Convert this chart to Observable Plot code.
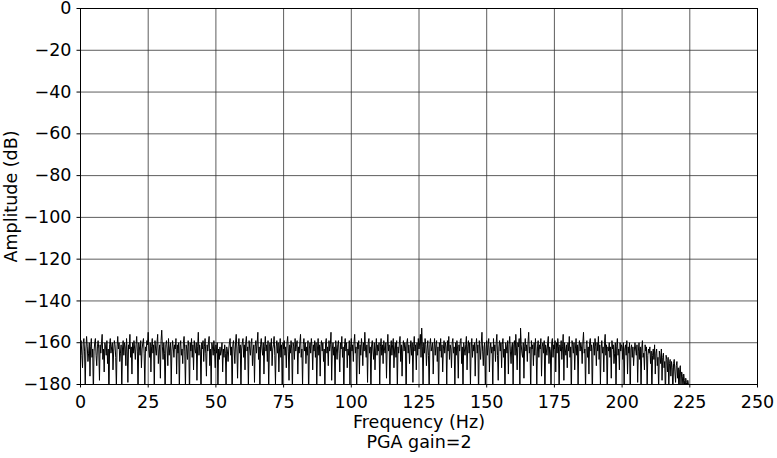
<!DOCTYPE html>
<html>
<head>
<meta charset="utf-8">
<script src="https://cdn.jsdelivr.net/npm/d3@7"></script>
<script src="https://cdn.jsdelivr.net/npm/@observablehq/plot@0.6"></script>
<style>
  body { margin: 0; background: white; }
  #chart svg text { font-size: 17.5px; font-family: "DejaVu Sans", sans-serif; fill: black; }
</style>
</head>
<body>
<div id="chart"></div>
<script>
// spectrum bins, 0.25 Hz apart, amplitude in dB
const binWidth = 0.25
const amplitude = [
  -161,-159,-166,-172,-160,-158,-164,-181,-163,-157,-162,-169,-165,-160,-176,-162,-158,-167,-163,-185,
  -164,-160,-158,-166,-171,-162,-159,-163,-178,-161,-165,-160,-156,-168,-163,-174,-160,-162,-166,-159,
  -170,-163,-188,-161,-158,-165,-162,-160,-173,-164,-159,-161,-167,-182,-162,-157,-163,-160,-169,-165,
  -161,-184,-163,-159,-166,-160,-162,-171,-158,-164,-179,-161,-163,-156,-167,-162,-175,-160,-165,-159,
  -163,-168,-161,-157,-164,-186,-160,-162,-166,-159,-172,-163,-160,-158,-165,-181,-162,-164,-159,-161,
  -155,-163,-167,-160,-174,-162,-158,-165,-161,-183,-159,-163,-166,-160,-156,-170,-164,-161,-177,-159,
  -154,-162,-168,-160,-165,-187,-161,-159,-163,-171,-158,-166,-162,-160,-180,-164,-159,-162,-167,-161,
  -163,-158,-175,-161,-165,-160,-184,-162,-159,-166,-163,-170,-160,-157,-164,-182,-161,-163,-168,-159,
  -162,-186,-160,-164,-158,-167,-161,-173,-159,-163,-165,-160,-178,-162,-155,-166,-161,-164,-185,-160,
  -163,-159,-169,-162,-158,-165,-176,-161,-164,-160,-157,-171,-163,-181,-160,-162,-166,-159,-164,-172,
  -161,-165,-160,-183,-163,-168,-162,-166,-164,-160,-174,-163,-167,-161,-165,-180,-162,-164,-169,-163,
  -160,-158,-166,-162,-187,-161,-159,-164,-170,-160,-156,-163,-177,-162,-158,-165,-161,-184,-163,-160,
  -158,-167,-161,-173,-160,-157,-164,-162,-182,-159,-163,-166,-160,-158,-171,-164,-161,-179,-162,-159,
  -165,-160,-155,-168,-162,-185,-161,-158,-163,-166,-160,-175,-162,-157,-164,-161,-169,-159,-183,-162,
  -160,-164,-158,-171,-163,-161,-157,-166,-180,-162,-159,-165,-160,-174,-163,-158,-167,-161,-186,-160,
  -163,-159,-166,-162,-172,-160,-157,-164,-178,-161,-165,-159,-163,-184,-160,-162,-168,-158,-164,-161,
  -159,-175,-162,-165,-160,-156,-167,-163,-181,-161,-158,-164,-160,-170,-162,-166,-159,-187,-163,-160,
  -165,-158,-162,-173,-161,-164,-159,-167,-160,-182,-163,-158,-166,-161,-176,-162,-159,-164,-160,-169,
  -163,-185,-160,-158,-165,-162,-171,-159,-164,-161,-155,-178,-163,-160,-166,-162,-183,-159,-163,-168,
  -161,-159,-165,-174,-160,-163,-157,-167,-162,-188,-161,-158,-164,-160,-172,-163,-166,-159,-180,-162,
  -158,-164,-161,-169,-160,-156,-165,-162,-184,-160,-163,-159,-175,-161,-166,-158,-162,-171,-160,-164,
  -155,-163,-167,-161,-179,-160,-158,-165,-162,-186,-161,-159,-164,-168,-160,-173,-163,-158,-166,-161,
  -164,-160,-181,-162,-158,-166,-161,-170,-159,-163,-165,-160,-177,-162,-156,-164,-161,-185,-163,-159,
  -166,-161,-158,-172,-163,-160,-167,-159,-183,-162,-165,-160,-157,-169,-161,-176,-163,-159,-164,-160,
  -162,-188,-160,-158,-165,-161,-170,-163,-159,-166,-160,-179,-162,-157,-164,-161,-173,-160,-166,-158,
  -163,-160,-156,-167,-153,-162,-182,-160,-165,-158,-161,-171,-163,-159,-166,-184,-161,-158,-164,-162,
  -160,-175,-163,-158,-166,-161,-159,-169,-162,-186,-160,-164,-158,-167,-161,-174,-163,-159,-165,-160,
  -162,-180,-159,-164,-157,-168,-161,-163,-172,-160,-158,-165,-162,-183,-160,-166,-159,-163,-177,-161,
  -164,-159,-158,-170,-162,-185,-160,-163,-166,-161,-157,-173,-162,-159,-165,-160,-181,-163,-158,-167,
  -161,-164,-160,-176,-162,-158,-165,-161,-187,-159,-163,-168,-160,-155,-164,-171,-162,-160,-182,-163,
  -159,-166,-161,-158,-174,-163,-160,-165,-162,-184,-158,-164,-161,-169,-160,-156,-166,-178,-162,-159,
  -164,-160,-172,-161,-158,-167,-163,-186,-160,-162,-165,-159,-175,-161,-157,-164,-170,-162,-160,-181,
  -161,-159,-166,-156,-163,-173,-160,-162,-158,-183,-153,-161,-165,-167,-160,-177,-162,-158,-164,-161,
  -169,-160,-155,-165,-162,-185,-159,-163,-161,-171,-160,-166,-158,-164,-180,-162,-159,-167,-161,-163,
  -158,-176,-162,-160,-165,-159,-188,-161,-163,-166,-160,-157,-170,-162,-164,-182,-160,-158,-167,-161,
  -163,-159,-174,-160,-165,-158,-162,-184,-161,-164,-159,-168,-162,-156,-178,-160,-163,-166,-161,-172,
  -160,-164,-157,-167,-162,-186,-159,-161,-165,-160,-173,-163,-158,-166,-161,-181,-162,-159,-164,-160,
  -162,-170,-160,-155,-165,-163,-183,-161,-159,-167,-162,-175,-160,-158,-164,-161,-187,-163,-160,-166,
  -158,-162,-171,-160,-164,-157,-168,-161,-180,-163,-159,-165,-162,-174,-160,-156,-166,-161,-185,-162,
  -164,-160,-167,-162,-177,-159,-163,-161,-170,-165,-160,-184,-162,-158,-166,-163,-173,-160,-164,-161,
  -162,-168,-160,-182,-163,-161,-166,-159,-175,-162,-165,-160,-187,-163,-161,-167,-162,-171,-164,-160,
  -163,-166,-161,-179,-164,-160,-168,-162,-185,-163,-159,-167,-165,-173,-161,-164,-162,-182,-166,-163,
  -165,-162,-170,-164,-186,-166,-163,-168,-161,-175,-165,-163,-171,-167,-183,-164,-166,-170,-163,-178,
  -167,-165,-172,-169,-187,-166,-168,-174,-167,-181,-170,-168,-176,-169,-172,-185,-170,-168,-174,-179,
  -171,-169,-177,-172,-188,-173,-171,-180,-174,-176,-183,-175,-178,-186,-177,-179,-182,-178,-180,-189,
  -180,-184,-182,-187,-183,-186,-190,-185,-188,-187,-191,-189,-190,-193,-191,-192,-194,-193,-195,-196
]
const xTicks = [0, 25, 50, 75, 100, 125, 150, 175, 200, 225, 250]
const yTicks = [0, -20, -40, -60, -80, -100, -120, -140, -160, -180]
const xLabel = 'Frequency (Hz)'
const yLabel = 'Amplitude (dB)'
const caption = 'PGA gain=2'

const data = amplitude.map((a, i) => ({freq: i * binWidth, amp: a}))

const fs = 17.5

let chart = Plot.plot({
  width: 777,
  height: 458,
  marginTop: 8,
  marginBottom: 74,
  marginLeft: 80,
  marginRight: 20,
  style: 'font-family: "DejaVu Sans", sans-serif; font-size: 17.5px; color: black; background: white;',
  x: {domain: [0, 250]},
  y: {domain: [-180, 0]},
  marks: [
    Plot.gridX(xTicks, {stroke: '#333', strokeOpacity: 1, strokeWidth: 0.8}),
    Plot.gridY(yTicks, {stroke: '#333', strokeOpacity: 1, strokeWidth: 0.8}),
    Plot.lineY(data, {x: 'freq', y: 'amp', stroke: 'black', strokeWidth: 1, clip: true}),
    Plot.frame({stroke: 'black', strokeWidth: 1}),
    Plot.axisX(xTicks, {tickSize: 3.5, tickPadding: 7.5, fontSize: fs, label: null}),
    Plot.axisY(yTicks, {tickSize: 3.5, tickPadding: 5.5, fontSize: fs, label: null}),
    // axis titles and caption, placed like the matplotlib original
    Plot.text([xLabel], {frameAnchor: 'bottom', dy: 43.7, fontSize: fs}),
    Plot.text([caption], {frameAnchor: 'bottom', dy: 63.1, fontSize: fs}),
    Plot.text([yLabel], {frameAnchor: 'left', dx: -69.1, rotate: -90, textAnchor: 'middle', fontSize: fs}),
  ]
})
d3.select('#chart').append(() => chart)
</script>
</body>
</html>
